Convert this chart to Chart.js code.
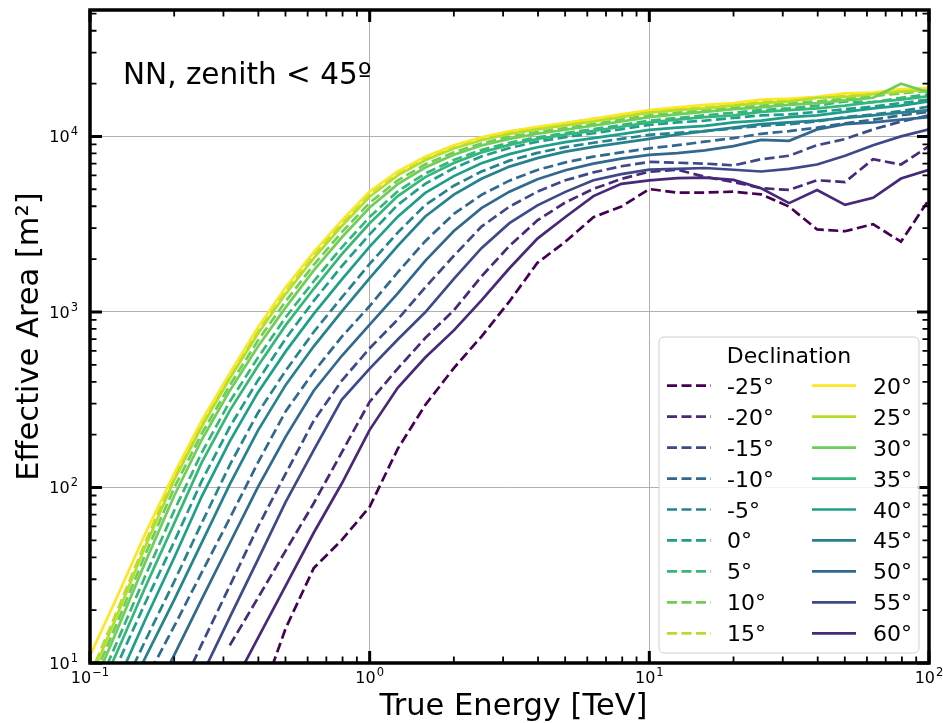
<!DOCTYPE html>
<html>
<head>
<meta charset="utf-8">
<script src="https://cdn.jsdelivr.net/npm/chart.js@4.4.1/dist/chart.umd.min.js"></script>
<style>
  html, body { margin: 0; padding: 0; background: #fff; }
  #wrap { width: 943px; height: 723px; }
</style>
</head>
<body>
<div id="wrap"><canvas id="aeff" width="943" height="723"></canvas></div>
<script>
// true energy bin centres [TeV], 10 per decade
const energyTeV = [0.1, 0.126, 0.158, 0.2, 0.251, 0.316, 0.398, 0.501, 0.631, 0.794,
                   1, 1.26, 1.58, 2, 2.51, 3.16, 3.98, 5.01, 6.31, 7.94,
                   10, 12.6, 15.8, 20, 25.1, 31.6, 39.8, 50.1, 63.1, 79.4, 100];

// effective area [m^2] per declination band
const aeffDecM25 = [null, null, null, null, null, null, 5.62, 15.8, 34.7, 50.1,
                    77.6, 166, 295, 479, 724, 1148, 1905, 2512, 3467, 3981,
                    5012, 4786, 4786, 4842, 4677, 3981, 2951, 2884, 3162, 2512, 4365];
const aeffDecM20 = [null, null, null, null, null, 12.6, 23.4, 43.7, 81.3, 158,
                    308, 476, 710, 1023, 1592, 2377, 3327, 4207, 5023, 5728,
                    6295, 6457, 5888, 5495, 5070, 4955, 5623, 5495, 7413, 6918, 8810];
const aeffDecM15 = [null, null, null, 5.94, 12.8, 27.5, 59.4, 120, 240, 405,
                    621, 906, 1380, 2089, 3062, 3981, 4842, 5623, 6237, 6761,
                    7161, 7079, 6998, 6839, 7413, 7762, 8913, 9661, 10960, 12160, 13180];
const aeffDecM10 = [null, 3.92, 7.96, 16.2, 32.8, 66.7, 138, 272, 456, 721,
                    1081, 1683, 2529, 3622, 4645, 5598, 6442, 7112, 7674, 8110,
                    8551, 8913, 9333, 9772, 10350, 10720, 11220, 11890, 12450, 13180, 13800];
const aeffDecM05 = [2.91, 6.28, 13.5, 29.1, 62.8, 134, 265, 463, 769, 1205,
                    1879, 2831, 4064, 5236, 6310, 7278, 8054, 8690, 9204, 9683,
                    10210, 10470, 10720, 11090, 11480, 11750, 12160, 12880, 13340, 13960, 14790];
const aeffDec00 = [4.51, 10.0, 22.2, 49.1, 109, 221, 406, 706, 1156, 1820,
                   2767, 4074, 5370, 6592, 7691, 8590, 9333, 9908, 10420, 10990,
                   11640, 12020, 12300, 12740, 13180, 13340, 13800, 14290, 14790, 15490, 16220];
const aeffDec05 = [5.79, 13.6, 31.6, 73.8, 158, 308, 547, 933, 1496, 2328,
                   3475, 4864, 6152, 7345, 8375, 9204, 9886, 10450, 10990, 11610,
                   12300, 12740, 13180, 13650, 14130, 14450, 14960, 15850, 15670, 16600, 17380];
const aeffDec10 = [7.33, 17.5, 41.9, 99.5, 203, 382, 685, 1151, 1854, 2838,
                   4188, 5610, 6934, 8128, 9120, 9954, 10590, 11170, 11750, 12450,
                   13180, 13650, 14130, 14620, 14960, 15490, 15850, 16410, 16980, 17580, 18200];
const aeffDec15 = [8.51, 20.4, 49.0, 116, 232, 434, 794, 1349, 2138, 3236,
                   4764, 6237, 7586, 8851, 9840, 10670, 11220, 11890, 12590, 13180,
                   13960, 14450, 14960, 15310, 15850, 16220, 16600, 17180, 17580, 18200, 18620];
const aeffDec20 = [11.0, 24.5, 55.0, 120, 240, 447, 813, 1380, 2190, 3310,
                   4850, 6310, 7670, 8910, 9890, 10700, 11350, 11940, 12590, 13340,
                   14130, 14620, 15140, 15490, 16220, 16410, 16790, 17580, 17780, 18620, 18840];
const aeffDec25 = [8.04, 19.3, 46.5, 110, 222, 417, 748, 1268, 2023, 3076,
                   4529, 5998, 7311, 8531, 9506, 10330, 10960, 11560, 12160, 12880,
                   13650, 14130, 14450, 14960, 15490, 15850, 16600, 16790, 17380, 17990, 18410];
const aeffDec30 = [6.68, 15.9, 37.8, 89.7, 187, 356, 634, 1062, 1726, 2655,
                   3936, 5346, 6653, 7870, 8872, 9683, 10350, 10910, 11510, 12160,
                   12880, 13340, 13800, 14290, 14620, 15140, 15490, 16030, 16600, 19950, 17780];
const aeffDec35 = [5.22, 11.9, 27.3, 62.4, 139, 274, 490, 841, 1355, 2128,
                   3199, 4571, 5861, 7063, 8110, 8954, 9661, 10230, 10760, 11350,
                   12020, 12450, 12880, 13180, 13800, 14130, 14450, 14960, 15670, 16220, 16980];
const aeffDec40 = [3.55, 7.94, 17.8, 39.8, 89.1, 183, 347, 596, 975, 1528,
                   2355, 3491, 4764, 5943, 7031, 7925, 8670, 9268, 9772, 10300,
                   10890, 11220, 11480, 12020, 12300, 12880, 13180, 13800, 14450, 14960, 15850];
const aeffDec45 = [2.42, 5.12, 10.8, 22.9, 48.5, 104, 210, 384, 637, 1005,
                   1556, 2377, 3499, 4656, 5741, 6730, 7516, 8185, 8710, 9183,
                   9683, 10230, 10720, 11220, 11750, 12020, 12300, 12740, 13180, 13650, 14130];
const aeffDec50 = [null, null, 5.33, 11.1, 23.1, 48.1, 100, 195, 356, 561,
                   847, 1274, 1954, 2891, 3899, 4842, 5702, 6412, 6998, 7464,
                   7852, 8035, 8318, 8810, 9550, 9441, 10960, 11750, 12020, 12450, 12880];
const aeffDec55 = [null, null, null, null, 8.49, 18.2, 38.7, 82.8, 163, 316,
                   475, 697, 995, 1545, 2307, 3206, 4046, 4831, 5623, 6095,
                   6471, 6531, 6607, 6457, 6310, 6531, 6918, 7762, 8913, 10000, 10960];
const aeffDec60 = [null, null, null, null, null, 6.90, 13.8, 27.6, 55.2, 105,
                   213, 370, 550, 785, 1164, 1774, 2618, 3475, 4571, 5370,
                   5623, 5781, 5821, 5649, 5070, 4169, 4955, 4074, 4467, 5754, 6457];

const xMin = 0.1, xMax = 100;
const yMin = 10, yMax = 52500;

// viridis, one shade per |dec - site latitude| step
const curves = [
  { label: '-25°', values: aeffDecM25, color: '#440154', dashed: true },
  { label: '-20°', values: aeffDecM20, color: '#482878', dashed: true },
  { label: '-15°', values: aeffDecM15, color: '#3e4989', dashed: true },
  { label: '-10°', values: aeffDecM10, color: '#31688e', dashed: true },
  { label: '-5°',  values: aeffDecM05, color: '#26828e', dashed: true },
  { label: '0°',   values: aeffDec00,  color: '#1f9e89', dashed: true },
  { label: '5°',   values: aeffDec05,  color: '#35b779', dashed: true },
  { label: '10°',  values: aeffDec10,  color: '#6ece58', dashed: true },
  { label: '15°',  values: aeffDec15,  color: '#b5de2b', dashed: true },
  { label: '20°',  values: aeffDec20,  color: '#fde725', dashed: false },
  { label: '25°',  values: aeffDec25,  color: '#b5de2b', dashed: false },
  { label: '30°',  values: aeffDec30,  color: '#6ece58', dashed: false },
  { label: '35°',  values: aeffDec35,  color: '#35b779', dashed: false },
  { label: '40°',  values: aeffDec40,  color: '#1f9e89', dashed: false },
  { label: '45°',  values: aeffDec45,  color: '#26828e', dashed: false },
  { label: '50°',  values: aeffDec50,  color: '#31688e', dashed: false },
  { label: '55°',  values: aeffDec55,  color: '#3e4989', dashed: false },
  { label: '60°',  values: aeffDec60,  color: '#482878', dashed: false }
];

const FONT = '"DejaVu Sans", sans-serif';
const DASH = [10, 4.5];
const LINE_W = 2.7;

const isDecade = v => Math.abs(Math.log10(v) - Math.round(Math.log10(v))) < 1e-6;

function powerLabel ( c, exp, x, y, align ) {
    const base = '10';
    const sup = exp < 0 ? '\u2212' + ( -exp ) : String( exp );
    c.font = `16px ${ FONT }`;
    const wb = c.measureText( base ).width;
    c.font = `11.5px ${ FONT }`;
    const ws = c.measureText( sup ).width;
    const total = wb + 1 + ws;
    const left = align === 'center' ? x - total / 2 : x - total;
    c.textAlign = 'left';
    c.textBaseline = 'alphabetic';
    c.font = `16px ${ FONT }`;
    c.fillText( base, left, y );
    c.font = `11.5px ${ FONT }`;
    c.fillText( sup, left + wb + 1, y - 7 );
}

const axesDecor = {
    id: 'axesDecor',
    beforeDraw ( chart ) {
        const c = chart.ctx;
        c.save();
        c.fillStyle = '#fff';
        c.fillRect( 0, 0, chart.width, chart.height );
        c.restore();
    },
    afterDraw ( chart ) {
        const c = chart.ctx;
        const a = chart.chartArea;
        const xs = chart.scales.x, ys = chart.scales.y;
        c.save();
        c.strokeStyle = '#000';
        c.fillStyle = '#000';

        // inward ticks on all four sides
        for ( let d = -1; d <= 2; d++ ) {
            for ( let m = 1; m <= 9; m++ ) {
                const v = m * Math.pow( 10, d );
                if ( v > xMax * 1.0001 ) break;
                const px = xs.getPixelForValue( v );
                const len = m === 1 ? 12 : 6.5;
                c.lineWidth = m === 1 ? 3 : 1.8;
                c.beginPath();
                c.moveTo( px, a.bottom ); c.lineTo( px, a.bottom - len );
                c.moveTo( px, a.top ); c.lineTo( px, a.top + len );
                c.stroke();
            }
        }
        for ( let d = 1; d <= 4; d++ ) {
            for ( let m = 1; m <= 9; m++ ) {
                const v = m * Math.pow( 10, d );
                if ( v > yMax ) break;
                const py = ys.getPixelForValue( v );
                const len = m === 1 ? 12 : 6.5;
                c.lineWidth = m === 1 ? 3 : 1.8;
                c.beginPath();
                c.moveTo( a.left, py ); c.lineTo( a.left + len, py );
                c.moveTo( a.right, py ); c.lineTo( a.right - len, py );
                c.stroke();
            }
        }

        // frame
        c.lineWidth = 3.5;
        c.strokeRect( a.left, a.top, a.right - a.left, a.bottom - a.top );

        // decade labels
        for ( let d = -1; d <= 2; d++ ) {
            powerLabel( c, d, xs.getPixelForValue( Math.pow( 10, d ) ), a.bottom + 20, 'center' );
        }
        for ( let d = 1; d <= 4; d++ ) {
            powerLabel( c, d, a.left - 12, ys.getPixelForValue( Math.pow( 10, d ) ) + 6, 'right' );
        }

        // axis titles
        c.font = `30.5px ${ FONT }`;
        c.textAlign = 'center';
        c.textBaseline = 'alphabetic';
        c.fillText( 'True Energy [TeV]', ( a.left + a.right ) / 2 + 4, 715 );
        c.save();
        c.translate( 38, ( a.top + a.bottom ) / 2 );
        c.rotate( -Math.PI / 2 );
        c.fillText( 'Effective Area [m²]', 0, 0 );
        c.restore();

        // selection note
        c.font = `29.5px ${ FONT }`;
        c.textAlign = 'left';
        c.fillText( 'NN, zenith < 45º', 123, 84 );

        drawLegend( c, chart );
        c.restore();
    }
};

function drawLegend ( c, chart ) {
    const box = { x: 659, y: 337, w: 260, h: 316 };
    c.save();
    c.beginPath();
    c.roundRect( box.x, box.y, box.w, box.h, 5 );
    c.fillStyle = 'rgba(255,255,255,0.85)';
    c.fill();
    c.strokeStyle = '#d0d0d0';
    c.lineWidth = 1;
    c.stroke();

    c.fillStyle = '#000';
    c.font = `22px ${ FONT }`;
    c.textAlign = 'center';
    c.textBaseline = 'alphabetic';
    c.fillText( 'Declination', box.x + box.w / 2, 363 );

    const rows = 9, rowGap = 30.95, firstRow = 385.7;
    const cols = [ { line: 667, text: 727 }, { line: 812, text: 873 } ];
    chart.data.datasets.forEach( ( ds, i ) => {
        const col = cols[ Math.floor( i / rows ) ];
        const y = firstRow + ( i % rows ) * rowGap;
        c.strokeStyle = ds.borderColor;
        c.lineWidth = LINE_W;
        c.setLineDash( ds.borderDash || [] );
        c.beginPath();
        c.moveTo( col.line, y );
        c.lineTo( col.line + 44, y );
        c.stroke();
        c.setLineDash( [] );
        c.textAlign = 'left';
        c.fillText( ds.label, col.text, y + 8 );
    } );
    c.restore();
}

const datasets = curves.map( ( cv, i ) => ( {
    label: cv.label,
    data: energyTeV.map( ( e, k ) => ( { x: e, y: cv.values[ k ] } ) ),
    borderColor: cv.color,
    backgroundColor: cv.color,
    borderWidth: LINE_W,
    borderDash: cv.dashed ? DASH : [],
    pointRadius: 0,
    tension: 0,
    fill: false,
    order: curves.length - i
} ) );

const gridColor = ctx => ( ctx.tick && isDecade( ctx.tick.value ) ) ? '#b0b0b0' : 'rgba(0,0,0,0)';

new Chart( document.getElementById( 'aeff' ), {
    type: 'line',
    data: { datasets },
    options: {
        responsive: false,
        animation: false,
        layout: { padding: { left: 90, right: 14, top: 10, bottom: 60 } },
        plugins: { legend: { display: false }, tooltip: { enabled: false } },
        scales: {
            x: {
                type: 'logarithmic', min: xMin, max: xMax,
                ticks: { display: false },
                grid: { drawTicks: false, color: gridColor, lineWidth: 1 },
                border: { display: false }
            },
            y: {
                type: 'logarithmic', min: yMin, max: yMax,
                ticks: { display: false },
                grid: { drawTicks: false, color: gridColor, lineWidth: 1 },
                border: { display: false }
            }
        }
    },
    plugins: [ axesDecor ]
} );
</script>
</body>
</html>
